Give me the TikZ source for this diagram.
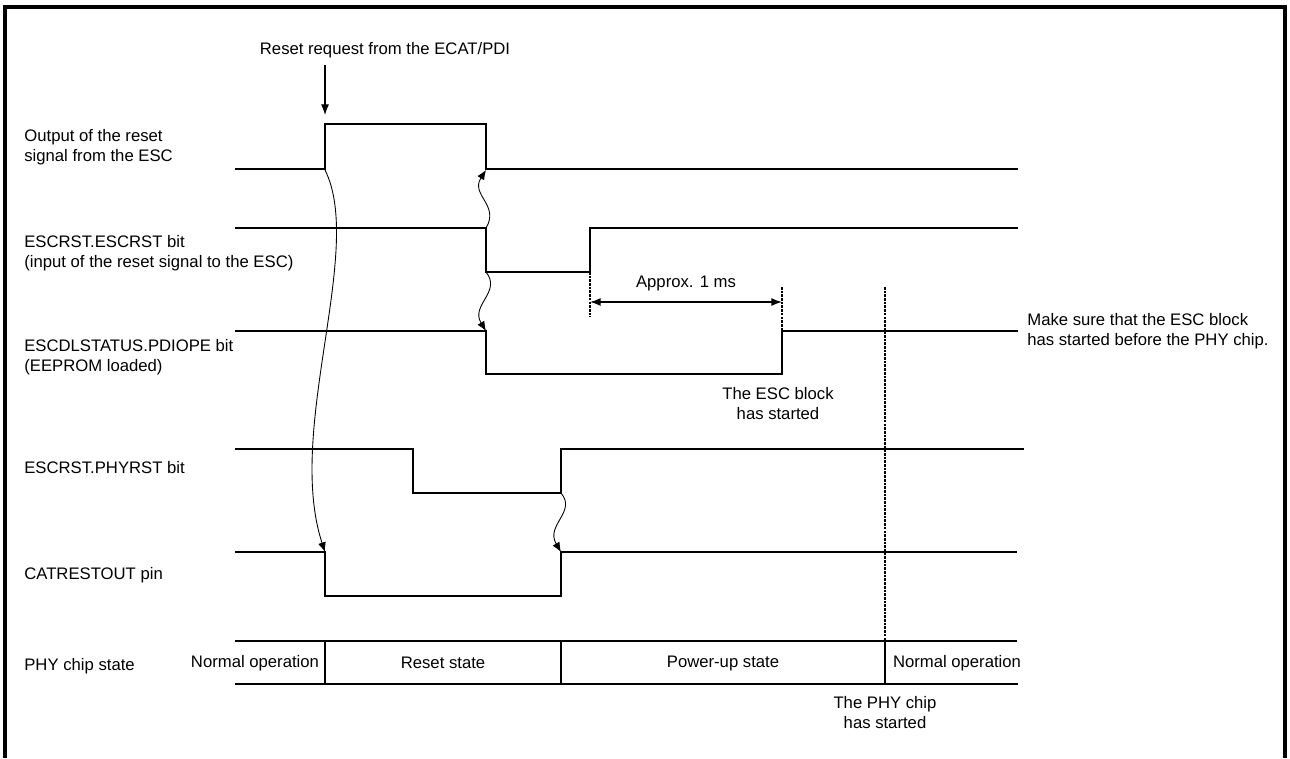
\documentclass[tikz,border=0pt]{standalone}
\usepackage{fontspec}
\setmainfont{Liberation Sans}
\usepackage{tikz}
\usetikzlibrary{arrows.meta}
\tikzset{
  frame/.style={line width=1.8pt, color=black},
  signal/.style={line width=1pt, color=black, line join=miter},
  marker/.style={line width=1.4pt, dash pattern=on 1.5pt off 0.6pt},
  busline/.style={line width=0.9pt},
  cause/.style={-{Latex[length=5.5pt,width=4.5pt]}, line width=0.5pt},
  pointer/.style={-{Latex[length=6pt,width=4.5pt]}, line width=0.6pt},
  span/.style={{Latex[length=6pt,width=4.5pt]}-{Latex[length=6pt,width=4.5pt]}, line width=0.8pt},
  signame/.style={anchor=west, align=left, inner sep=0pt},
  note/.style={align=center, inner sep=0pt}
}

\begin{document}
\begin{tikzpicture}[x=0.02cm, y=-0.02cm, every node/.style={font=\fontsize{9.5}{11.4}\selectfont}]
  \useasboundingbox (0,0) rectangle (1290,758);
  % Frame, open at the bottom
  \draw[frame] (5,758) -- (5,7) -- (1285,7) -- (1285,758);

  % Signal names
  \node[signame] (nout) at (24,147) {Output of the reset\\signal from the ESC};
  \node[signame] (nesc) at (24,253) {ESCRST.ESCRST bit\\(input of the reset signal to the ESC)};
  \node[signame] (npdi) at (24,357) {ESCDLSTATUS.PDIOPE bit\\(EEPROM loaded)};
  \node[signame] (nphy) at (24,468) {ESCRST.PHYRST bit};
  \node[signame] (ncat) at (24,575) {CATRESTOUT pin};
  \node[signame] (nstate) at (24,666) {PHY chip state};

  % Reset request
  \node[note] (req) at (385,50) {Reset request from the ECAT/PDI};
  \coordinate (reqtip) at (325,115);
  \draw[pointer] (325,65) -- (reqtip);

  % Output of the reset signal from the ESC
  \draw[signal] (235,169) -- (325,169) -- (325,124) -- (486,124) -- (486,169) -- (1018,169);
  \coordinate (outrise) at (325,170);
  \coordinate (outfall) at (486,170);

  % ESCRST.ESCRST bit
  \draw[signal] (235,228) -- (486,228) -- (486,272) -- (590,272) -- (590,228) -- (1018,228);
  \coordinate (escfall) at (486,228);
  \coordinate (esclow) at (486,272);

  % ESCDLSTATUS.PDIOPE bit
  \draw[signal] (235,331) -- (486,331) -- (486,374) -- (782,374) -- (782,331) -- (1018,331);
  \coordinate (pdifall) at (486,331);

  % ESCRST.PHYRST bit
  \draw[signal] (235,449) -- (413,449) -- (413,493) -- (561,493) -- (561,449) -- (1024,449);
  \coordinate (phyrise) at (561,493);

  % CATRESTOUT pin
  \draw[signal] (235,552) -- (325,552) -- (325,596) -- (561,596) -- (561,552) -- (1017,552);
  \coordinate (catfall) at (325,552);
  \coordinate (catrise) at (561,552);

  % PHY chip state
  \draw[busline] (235,641) -- (1017,641);
  \draw[busline] (235,684) -- (1018,684);
  \foreach \x in {325,561,885}
    \draw[busline] (\x,641) -- (\x,684);
  \node[note] (st1) at (255,663) {Normal operation};
  \node[note] (st2) at (443,663) {Reset state};
  \node[note] (st3) at (723,663) {Power-up state};
  \node[note] (st4) at (957,663) {Normal operation};

  % Timing markers
  \draw[marker] (590,272) -- (590,317);
  \draw[marker] (782,287) -- (782,331);
  \draw[marker] (885,287) -- (885,641);
  \coordinate (spana) at (590,302);
  \coordinate (spanb) at (782,302);
  \draw[span] (spana) -- (spanb);
  \node[note] (approx) at (686,283) {Approx. 1 ms};

  % Cause and effect
  \draw[cause] (outrise) .. controls (365,250) and (285,430) .. (catfall);
  \draw[cause] (escfall) .. controls (500,205) and (470,195) .. (outfall);
  \draw[cause] (esclow) .. controls (502,292) and (470,305) .. (pdifall);
  \draw[cause] (phyrise) .. controls (577,512) and (545,525) .. (catrise);

  % Notes
  \node[note] (escok) at (778,404) {The ESC block\\has started};
  \node[signame] (hint) at (1027,331) {Make sure that the ESC block\\has started before the PHY chip.};
  \node[note] (phyok) at (885,713) {The PHY chip\\has started};
\end{tikzpicture}
\end{document}
